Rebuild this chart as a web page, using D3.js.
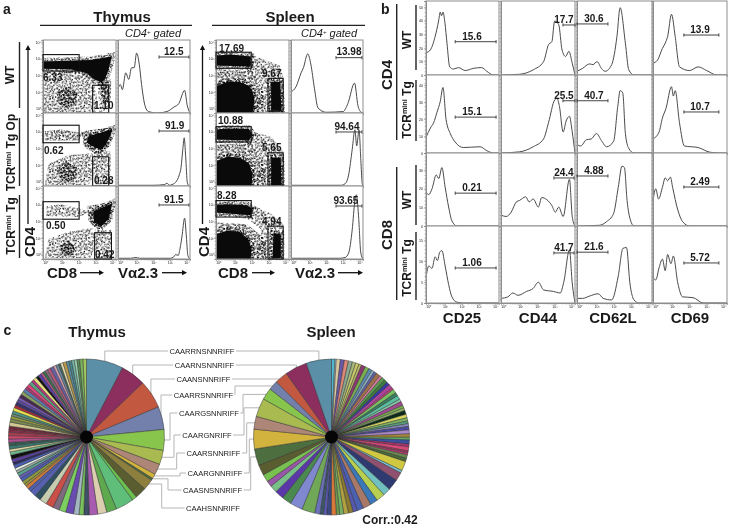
<!DOCTYPE html>
<html><head><meta charset="utf-8">
<script src="https://cdn.jsdelivr.net/npm/d3@7"></script>
<style>
html,body{margin:0;padding:0;background:#fff}
svg{display:block;filter:blur(.4px)}
text{font-family:"Liberation Sans",Arial,sans-serif;fill:#1a1a1a}
</style></head><body>
<div id="chart"></div>
<script>
// ---------- panel a: flow-cytometry gate labels ----------
const thymusDotLabels=[["6.33","1.10"],["0.62","0.28"],["0.50","0.42"]];
const spleenDotLabels=[["17.69","9.67"],["10.88","5.65"],["8.28","4.94"]];
const thymusHistLabels=["12.5","91.9","91.5"];
const spleenHistLabels=["13.98","94.64","93.65"];
// gates in log decades [x0,x1,y0,y1]
const thymusGates=[[[0,1.98,2.3,3.2],[2.72,3.6,0,1.52]],[[0,1.98,2.37,3.33],[2.72,3.6,0,1.6]],[[0,1.98,2.18,3.14],[2.83,3.75,0,1.44]]];
const spleenGates=[[[0,1.93,2.45,3.33],[2.85,3.68,0.1,1.9]],[[0,1.93,2.41,3.25],[2.85,3.68,0,1.82]],[[0,1.93,2.3,3.2],[2.85,3.68,0,1.8]]];
// ---------- event density regions, read as outlines in log decades: [layers, outline] (layers 9 = saturated) ----------
const thymusWTClouds=[
 [3,[[0,2.3],[1.5,2.3],[2.4,2.15],[2.8,1.6],[2.95,.9],[2.9,0],[0,0]]],
 [3,[[3,1.6],[3.75,1.9],[3.7,.3],[3.1,0]]],
 [6,[[.8,1.2],[1.4,1.45],[1.9,1.05],[1.8,.5],[1.2,.25],[.8,.6]]],
 [7,[[3.1,1.7],[3.6,1.7],[3.6,.6],[3.3,.6]]],
 [9,[[0,2.82],[1.3,2.86],[2.6,2.9],[3.76,3.1],[3.6,2.4],[3.4,1.85],[3.2,1.67],[2.8,1.85],[2.4,2.18],[1.5,2.4],[0,2.42]]]];
const thymusOpClouds=[
 [4,[[.1,2.5],[1.95,2.5],[2.2,2.9],[1,3.1],[.1,3]]],
 [3,[[.1,.05],[2.5,.05],[3,1],[2.7,1.8],[1.4,1.7],[.3,1.2]]],
 [3,[[2.8,1.9],[3.7,1.9],[3.7,.1],[2.85,.1]]],
 [6,[[.7,.9],[1.3,1.35],[1.95,.9],[1.7,.3],[1.1,.2]]],
 [4,[[2.1,3],[3.8,3.2],[3.7,2.2],[3,1.7],[2.3,2.1]]],
 [9,[[2.5,2.74],[3.8,3.1],[3.6,2.55],[3.24,2],[2.87,2.1],[2.4,2.37]]]];
const thymusTgClouds=[
 [3,[[.2,2.35],[2,2.3],[2.6,2.6],[1,3],[.2,2.9]]],
 [3,[[.1,.05],[2.6,.05],[3,1],[2.7,1.7],[1.4,1.5],[.3,1.1]]],
 [3,[[2.85,1.6],[3.75,1.6],[3.75,.05],[2.9,.05]]],
 [7,[[.9,.7],[1.4,1],[1.8,.65],[1.6,.2],[1.1,.2]]],
 [4,[[2.4,2.9],[3.8,3.15],[3.7,2],[3,1.6],[2.5,2.1]]],
 [9,[[2.75,2.6],[3.8,3.05],[3.6,2.2],[3.2,1.8],[2.8,2]]]];
const spleenWTClouds=[
 [3,[[1.9,3.2],[3.5,2.6],[3.7,1.9],[3.7,.05],[2.2,.05],[2.5,1.6],[1.6,2.4]]],
 [4,[[0,2.4],[2,2.3],[2.6,1.2],[2.6,0],[0,0]]],
 [9,[[0,2.6],[1.9,2.55],[1.9,3.1],[.8,3.2],[0,3.15]]],
 [9,[[0,0],[0,1.45],[.6,1.7],[1.3,1.7],[1.85,1.45],[2.1,.9],[2.05,0]]],
 [9,[[3.02,1.7],[3.52,1.7],[3.58,.12],[3.02,.12]]]];
const spleenOpClouds=[
 [3,[[1.9,3],[3,2.7],[3.7,1.9],[3.7,0],[2.2,0],[2.5,1.6],[1.6,2.4]]],
 [4,[[0,2.3],[1.9,2.3],[2.7,1.2],[2.7,0],[0,0]]],
 [9,[[0,2.55],[1.8,2.5],[2,2.8],[1.8,3.12],[.6,3.15],[0,3.1]]],
 [9,[[0,0],[0,1.35],[.6,1.6],[1.3,1.55],[1.8,1.25],[2,.7],[1.95,0]]],
 [9,[[3.02,1.55],[3.55,1.55],[3.58,.05],[3.02,.05]]]];
const spleenTgClouds=[
 [3,[[1.9,3],[3,2.5],[3.7,1.9],[3.7,0],[2.2,0],[2.5,1.6],[1.6,2.3]]],
 [4,[[0,2],[1.7,1.9],[2.7,1.1],[2.8,0],[0,0]]],
 [9,[[0,2.55],[1.9,2.4],[2,2.75],[1.7,2.95],[.5,3],[0,2.95]]],
 [9,[[0,0],[0,1.35],[.6,1.55],[1.3,1.5],[1.75,1.1],[1.95,.6],[1.9,0]]],
 [9,[[3.15,1.4],[3.55,1.35],[3.55,.05],[3.1,.05]]]];
// ---------- panel a: histograms [log decade, % of panel height] ----------
const thymusHists=[
 [[0,33],[.13,39],[.24,32],[.43,55],[.6,46],[.75,62],[.9,62],[1.03,82],[1.18,67],[1.31,39],[1.5,10],[1.69,2],[2.16,0],[2.72,2],[3.1,8],[3.38,13],[3.7,31],[3.85,10],[4,0]],
 [[0,1],[1,1],[2,1],[2.6,2],[2.72,4],[2.85,1],[3,2],[3.2,5],[3.4,15],[3.5,25],[3.6,50],[3.68,66],[3.76,40],[3.85,5],[3.95,0],[4,0]],
 [[0,1],[.7,1],[1,2],[1.2,1],[2,1],[2.9,1],[3.1,3],[3.2,6],[3.35,5],[3.45,15],[3.55,30],[3.7,56],[3.8,30],[3.88,5],[4,0]]];
const spleenHists=[
 [[0,29],[.28,36],[.56,55],[.69,62],[.93,81],[1.1,67],[1.3,34],[1.5,7],[1.95,1],[2.9,2],[3.16,13],[3.53,41],[3.72,10],[3.9,1],[4,0]],
 [[0,1],[1.5,1],[2.8,1],[3,3],[3.2,15],[3.4,50],[3.55,77],[3.65,55],[3.78,77],[3.88,35],[3.95,5],[4,0]],
 [[0,1],[1,1],[2.7,1],[3,2],[3.2,8],[3.4,40],[3.55,80],[3.63,88],[3.75,60],[3.88,8],[4,0]]];
// ---------- panel b: histograms by row then marker ----------
const cd25Hists=[
 [[0,30],[.24,34],[.5,52],[.69,73],[.78,85],[.85,80],[.93,85],[1.04,70],[1.15,43],[1.3,11],[1.5,8],[1.78,10],[2.15,6],[2.6,9],[3.05,10],[3.33,5],[3.7,0],[4,0]],
 [[0,20],[.24,32],[.42,39],[.6,52],[.78,66],[.93,84],[1.1,43],[1.33,25],[1.6,14],[2.05,7],[2.96,8],[3.33,3],[3.7,0],[4,0]],
 [[0,46],[.15,43],[.33,51],[.56,70],[.7,65],[.87,80],[1.05,53],[1.24,26],[1.42,7],[1.7,0],[4,0]],
 [[0,33],[.15,48],[.33,45],[.5,60],[.63,55],[.75,66],[.87,68],[1.05,48],[1.24,24],[1.42,8],[1.7,1],[2.05,0],[4,0]]];
const cd44Hists=[
 [[0,0],[1,1],[1.74,7],[2.3,18],[2.57,41],[2.75,45],[2.9,73],[3.12,68],[3.3,34],[3.49,25],[3.67,32],[3.85,16],[4,0]],
 [[0,0],[1,1.5],[1.74,8],[2.3,18],[2.57,39],[2.9,68],[3.03,70],[3.15,61],[3.36,27],[3.52,41],[3.7,47],[3.85,27],[4,0]],
 [[0,15],[.28,13],[.55,19],[.83,33],[1,35],[1.34,40],[1.52,33],[1.74,37],[2.02,26],[2.2,39],[2.48,36],[2.75,28],[2.94,19],[3.12,26],[3.36,13],[3.7,64],[3.85,13],[4,0]],
 [[0,6],[.37,8],[.64,13],[.92,10],[1.38,15],[1.74,19],[2.02,27],[2.3,17],[2.84,15],[3.2,13],[3.4,28],[3.7,69],[3.85,26],[4,0]]];
const cd62Hists=[
 [[0,5],[.3,9],[.67,15],[.85,14],[1.07,18],[1.3,9],[1.5,5],[1.85,14],[2.13,52],[2.3,91],[2.58,43],[2.76,7],[3.04,0],[4,0]],
 [[0,11],[.2,9],[.5,17],[.76,18],[1.04,25],[1.3,16],[1.58,8],[1.95,15],[2.18,61],[2.3,80],[2.44,77],[2.58,25],[2.76,6],[3.04,0],[4,0]],
 [[0,0],[1.2,1],[1.58,6],[1.95,17],[2.2,53],[2.4,82],[2.53,80],[2.67,35],[2.85,8],[3.04,0],[4,0]],
 [[0,6],[.3,6],[.67,9],[1.13,12],[1.4,6],[1.85,4],[2.2,35],[2.45,71],[2.64,72],[2.82,26],[3.04,4],[3.3,0],[4,0]]];
const cd69Hists=[
 [[0,16],[.24,20],[.51,36],[.66,43],[.79,52],[1,82],[1.2,52],[1.43,11],[1.98,6],[2.44,11],[2.9,6],[3.45,0],[4,0]],
 [[0,18],[.33,27],[.51,45],[.7,57],[1,85],[1.1,73],[1.2,80],[1.43,39],[1.7,9],[2.44,7],[3.08,1],[3.63,0],[4,0]],
 [[0,35],[.15,51],[.3,37],[.51,53],[.66,66],[.79,62],[.94,67],[1.06,53],[1.34,22],[1.6,6],[1.98,0],[4,0]],
 [[0,33],[.15,30],[.33,46],[.51,57],[.66,42],[.79,63],[.97,51],[1.1,61],[1.34,26],[1.6,8],[2.16,7],[2.72,0],[4,0]]];
const markerNames=["CD25","CD44","CD62L","CD69"];
const cd25Values=["15.6","15.1","0.21","1.06"];
const cd44Values=["17.7","25.5","24.4","41.7"];
const cd62Values=["30.6","40.7","4.88","21.6"];
const cd69Values=["13.9","10.7","2.49","5.72"];
const countTicks=[[0,10,20,30,40,50],[0,10,20,30,40],[0,10,20,30],[0,5,10,15]];
const countMax=[54.5,45.8,39,18.3];
// ---------- panel c: repertoire shares ----------
const cloneLabels=["CAARRNSNNRIFF","CAARNSNNRIFF","CAANSNNRIFF","CAARRSNNRIFF","CAARGSNNRIFF","CAARGNRIFF","CAARSNNRIFF","CAARGNNRIFF","CAASNSNNRIFF","CAAHSNNRIFF"];
const thymusShares=[27.4,18.6,21,17,15.5,10.5,8,3.5,1.5,8,8.6,3.5,13.5,7.5,6.7,6.3,4,3.5,4.1,5.8,5.1,4.8,5.7,5.4,4.6,4.6,
 2.5,2.5,2,2.5,2.5,2,2.5,2,2,2.5,2,2.5,3,2.5,2,2.5,2.5,2.5,2.5,2.5,2,2.5,3,2.5,2,2,2,2.5,2,2.5,2,2,2.5,2.5,2.5,2,2.5,2.5,2,2.5,2,2.5,1.5,2,2,2.5,2.5,2,2,1.5,2,2.5,2,2,2,2,2,2.5,2.5];
const thymusColors=["#5b8fa8","#8c2f5f","#c1583f","#7480ac","#87c54d","#a9bb50","#ad8678","#d2b33e","#4d6f3f","#8d7f3d","#5a5d30","#6cc04c","#5fbf7a","#5ea94e","#dccfb0","#a85cb0","#3f4f66","#78c05c","#a3b5c0","#6a4cb0","#7bcf60","#7d6c80","#c94f48","#c5ccb0","#2f5060","#5560b0",
 "#4f60b0","#d07a3c","#a08c3c","#8c9a40","#4a5fb0","#6a5fc0","#5aa090","#9ab0a0","#e8efe8","#4a60b0","#2c2a60","#5a3fa0","#111111","#6fb58a","#e0d8a0","#3a7a70","#395a50","#b0508f","#c8486a","#a83c50","#8a3048","#702a3c","#d0c890","#7a8a50","#9aa040","#6a8a70","#4a9a8a","#e8e050","#b02a3a","#34306a","#5a4aa0","#7a5ab8","#4a2a50","#8aa060","#5a80b0","#b03a78","#d8487a","#58a080","#b8347f","#e8e080","#151515","#5a3fa0","#c05a90","#3a7050","#8a6a80","#b05a78","#6860a8","#d0a0b0","#6a8aa0","#4a6a60","#e0d8a8","#b89a50","#5a90a0","#4a8a90","#78b8a8","#9ad0b0","#5a8a58","#7ab060","#a0c860","#402a80"];
const spleenShares=[2.5,1,3,3,3,3,2.5,2.5,2,3,3,2.5,2,2,3,2,2.5,2.5,2.5,3,1.5,3,2.5,3,2,3,2,2,3,2.5,2.5,2,2,2.5,3,2.5,2,3,2,3,1.5,1.5,2.5,2.5,7,2,6.2,8.3,5.7,6.3,5.6,6,4.8,3.1,3.5,3.5,3,2.5,3.7,3.3,2.5,2.5,4,9.6,9.4,7,6.6,5.4,4.4,5.6,
 7.8,12.2,14.5,9.5,13.7,8.7,7,9.5,16.4,18.7];
const spleenColors=["#4fb6cf","#a8c8d8","#d8c8a0","#6a58a8","#e08878","#8aa890","#a8b878","#c8c868","#b8b868","#8a3a70","#7ab050","#5f8ab0","#8ab0c0","#6060a8","#a0704a","#d878a0","#5a9a50","#3a7a3a","#3a3aa0","#b0409a","#c04080","#7ac060","#3a8060","#5ac0a0","#88c8a8","#a04a90","#7ab050","#90b068","#0e2a1a","#d8d860","#7ab060","#5aa080","#8a8ac0","#4a4aa0","#a888c8","#a88838","#60a860","#3a50a0","#b03070","#d84878","#a03a60","#c83a78","#6a8a50","#4a6a3a","#d0c840","#78c0d0","#905070","#2f3a70","#70c0c0","#b8d050","#3a78b8","#a87868","#4a60b0","#5858b0","#8a7a30","#b0a040","#78b060","#6a9a50","#d87838","#3a4a80","#5a58b0","#3a5a68","#6a70b8","#70a858","#8088d0","#4a8a50","#5a38a8","#78c088","#9858a8","#78c050",
 "#5a5d30","#4d6f3f","#d2b33e","#ad8678","#a9bb50","#87c54d","#7480ac","#c1583f","#8c2f5f","#5b8fa8"];
// stipple tile for the event clouds, read by eye
const stippleTile=[[2,3],[7,1],[13,4],[19,2],[4,8],[10,7],[16,9],[21,6],[1,13],[7,12],[12,14],[18,13],[3,18],[9,17],[15,19],[20,17],[6,21],[12,20],[18,21],[1,21],[9,4],[15,12],[5,15],[20,10]];

// ---------- layout ----------
const W=729,H=529;
const svg=d3.select("#chart").append("svg").attr("width",W).attr("height",H).attr("viewBox",[0,0,W,H]);
svg.append("rect").attr("width",W).attr("height",H).attr("fill","#fff");
const defs=svg.append("defs");
const angles=[17,53,97,131,163,29,71,113,149];
const tileScale=.74;
angles.forEach((a,i)=>{
  const p=defs.append("pattern").attr("id","st"+i).attr("width",22*tileScale).attr("height",22*tileScale)
    .attr("patternUnits","userSpaceOnUse").attr("patternTransform",`rotate(${a}) translate(${i*5},${i*3})`);
  p.selectAll("rect").data(stippleTile).join("rect").attr("x",d=>d[0]*tileScale).attr("y",d=>d[1]*tileScale).attr("width",1.05).attr("height",1.05).attr("fill","#000");
});
const decades=d3.range(0,5);
const minor=d3.range(0,4).flatMap(d=>d3.range(1,10).map(k=>d+Math.log10(k))).concat([4]);
const supers=["⁰","¹","²","³","⁴"];
const FRAME="#8d8d8d";

function text(x,y,s,o={}){
  const t=svg.append("text").attr("x",x).attr("y",y).text(s)
    .attr("font-size",o.size||10).attr("text-anchor",o.anchor||"middle");
  if(o.bold!==false)t.attr("font-weight","bold");
  if(o.rot)t.attr("transform",`rotate(-90 ${x} ${y})`);
  return t;
}
function tgLabel(x,y,tail,size){
  const t=svg.append("text").attr("transform",`translate(${x},${y}) rotate(-90)`).attr("text-anchor","middle").attr("font-size",size).attr("font-weight","bold");
  t.append("tspan").text("TCR");
  t.append("tspan").text("mini").attr("font-size",size*.6).attr("dy",-size*.32);
  t.append("tspan").text(" "+tail).attr("dy",size*.32);
}
function vline(x,y0,y1,w){svg.append("line").attr("x1",x).attr("x2",x).attr("y1",y0).attr("y2",y1).attr("stroke","#222").attr("stroke-width",w||1.4);}
function arrow(x0,y0,x1,y1){
  const a=Math.atan2(y1-y0,x1-x0),s=5;
  svg.append("line").attr("x1",x0).attr("y1",y0).attr("x2",x1-Math.cos(a)*s).attr("y2",y1-Math.sin(a)*s).attr("stroke","#111").attr("stroke-width",1.3);
  const p=[[x1,y1],[x1-Math.cos(a)*s-Math.sin(a)*2.6,y1-Math.sin(a)*s+Math.cos(a)*2.6],[x1-Math.cos(a)*s+Math.sin(a)*2.6,y1-Math.sin(a)*s-Math.cos(a)*2.6]];
  svg.append("polygon").attr("points",p.join(" ")).attr("fill","#111");
}
function axisStyle(g,labels){
  g.selectAll(".domain").attr("stroke",FRAME).attr("stroke-width",1);
  g.selectAll("line").attr("stroke",FRAME).attr("stroke-width",.6);
  g.selectAll("text").attr("font-size",3.6).attr("fill","#444").style("display",labels?null:"none");
}
function panel(x,y,w,h,o={}){
  const g=svg.append("g").attr("transform",`translate(${x},${y})`);
  const xs=d3.scaleLinear([0,4],[0,w]),ys=d3.scaleLinear([0,100],[h,0]);
  g.append("rect").attr("width",w).attr("height",h).attr("fill","#fff");
  const content=g.append("g");
  g.append("rect").attr("width",w).attr("height",h).attr("fill","none").attr("stroke",FRAME).attr("stroke-width",1);
  axisStyle(g.append("g").attr("transform",`translate(0,${h})`).call(d3.axisBottom(xs).tickValues(minor).tickSize(1.5).tickFormat("")),false);
  axisStyle(g.append("g").call(d3.axisLeft(ys).tickValues(d3.range(0,101,5)).tickSize(1.5).tickFormat("")),false);
  if(o.xLabels){
    const inset=d3.scaleLinear([0,4],[w*.03,w*.95]);
    const a=g.append("g").attr("transform",`translate(0,${h})`).call(d3.axisBottom(inset).tickValues(decades).tickSize(2).tickPadding(0).tickFormat(d=>"10"+supers[d]));
    a.select(".domain").remove();
    axisStyle(a,true);
  }
  return {g:content,root:g,xs,ys,w,h};
}
function hist(p,pts){
  const line=d3.line().x(d=>p.xs(d[0])).y(d=>p.ys(d[1])).curve(d3.curveMonotoneX);
  p.g.append("path").datum(pts).attr("d",line).attr("fill","none").attr("stroke","#4a4a4a").attr("stroke-width",1);
}
function gateBar(p,x0,x1,pct,label,lx){
  const y=p.ys(pct),g=p.root.append("g");
  g.append("line").attr("x1",p.xs(x0)).attr("x2",p.xs(x1)).attr("y1",y).attr("y2",y);
  [x0,x1].forEach(v=>g.append("line").attr("x1",p.xs(v)).attr("x2",p.xs(v)).attr("y1",y-1.6).attr("y2",y+1.6));
  g.selectAll("line").attr("stroke","#444").attr("stroke-width",1);
  g.append("text").attr("x",p.xs(lx)).attr("y",y-2.2).attr("text-anchor","middle").attr("font-size",10).attr("font-weight","bold").text(label);
}
function dotPanel(x,y,clouds,gates,labelsPos,labels,xLabels){
  const p=panel(x,y,73,73,{xLabels});
  const ysD=d3.scaleLinear([0,4],[73,0]);
  const path=d3.line().x(d=>p.xs(d[0])).y(d=>ysD(d[1]));
  const clip="cl"+x+"_"+y;
  defs.append("clipPath").attr("id",clip).append("rect").attr("width",73).attr("height",73);
  p.g.attr("clip-path",`url(#${clip})`);
  clouds.forEach(([n,pts])=>{
    if(n===9){
      // fuzzy rim of a saturated region
      d3.range(5).forEach(i=>p.g.append("path").attr("d",path(pts)+"Z").attr("fill","none").attr("stroke",`url(#st${i})`).attr("stroke-width",i<3?7:4));
      p.g.append("path").attr("d",path(pts)+"Z").attr("fill","#0a0a0a");
    } else d3.range(n).forEach(i=>p.g.append("path").attr("d",path(pts)+"Z").attr("fill",`url(#st${i})`));
  });
  gates.forEach(([a,b,c,d])=>p.root.append("rect").attr("x",p.xs(a)).attr("y",ysD(d)).attr("width",p.xs(b)-p.xs(a)).attr("height",ysD(c)-ysD(d)).attr("fill","none").attr("stroke","#111").attr("stroke-width",1.1));
  labels.forEach((s,i)=>p.root.append("text").attr("x",labelsPos[i][0]).attr("y",labelsPos[i][1]).attr("font-size",10).attr("font-weight","bold").text(s));
  const inset=d3.scaleLinear([0,4],[73*.94,73*.03]);
  const l=p.root.append("g").call(d3.axisLeft(inset).tickValues(decades).tickSize(2).tickPadding(0).tickFormat(d=>"10"+supers[d]));
  l.select(".domain").remove();
  axisStyle(l,true);
  return p;
}
// ---------- panel a ----------
text(3,13.5,"a",{size:14,anchor:"start"});
text(122,22,"Thymus",{size:15});
text(290,22,"Spleen",{size:15});
[[40,192],[212,365]].forEach(([a,b])=>svg.append("line").attr("x1",a).attr("x2",b).attr("y1",25.3).attr("y2",25.3).attr("stroke","#222").attr("stroke-width",1.2));
[153,329].forEach(x=>{
  const t=svg.append("text").attr("x",x).attr("y",37).attr("text-anchor","middle").attr("font-size",11).attr("font-style","italic");
  t.append("tspan").text("CD4");t.append("tspan").text("+").attr("font-size",6).attr("dy",-3);t.append("tspan").text(" gated").attr("dy",3);
});
const aRowY=[40,113,186];
const thymusClouds=[thymusWTClouds,thymusOpClouds,thymusTgClouds];
const spleenClouds=[spleenWTClouds,spleenOpClouds,spleenTgClouds];
const thymusLabelPos=[[[0,41],[51,69]],[[1,41],[51,71]],[[3,42.5],[52,71.5]]];
const spleenLabelPos=[[[3,11.5],[46,37]],[[2,10.5],[46,37.5]],[[1,12.5],[46,38.5]]];
const thymusPct=[76.7,75.3,74],spleenPct=[75.8,74,72.6];
const thymusLblX=[3.1,3.15,3.1],spleenLblX=[3.22,3.11,3.05];
aRowY.forEach((y,i)=>{
  const last=i===2;
  dotPanel(43,y,thymusClouds[i],thymusGates[i],thymusLabelPos[i],thymusDotLabels[i],last);
  const h1=panel(118,y,72,73,{xLabels:last});
  hist(h1,thymusHists[i]);
  gateBar(h1,2.28,3.94,thymusPct[i],thymusHistLabels[i],thymusLblX[i]);
  dotPanel(216,y,spleenClouds[i],spleenGates[i],spleenLabelPos[i],spleenDotLabels[i],last);
  const h2=panel(291,y,72,73,{xLabels:last});
  hist(h2,spleenHists[i]);
  gateBar(h2,2.5,3.94,spleenPct[i],spleenHistLabels[i],spleenLblX[i]);
});
text(14,75,"WT",{size:12,rot:true});
tgLabel(14.5,152.5,"Tg Op",12);
tgLabel(14.5,226,"Tg",12);
vline(19.5,42,108);vline(19.5,118,186);vline(19.5,195,258);
arrow(28,224,28,45);arrow(202.5,224,202.5,45);
text(34.5,242,"CD4",{size:15,rot:true});
text(208.5,242,"CD4",{size:15,rot:true});
[[47,"CD8",80,104],[218,"CD8",252,275]].forEach(([x,s,a,b])=>{text(x,278,s,{size:15,anchor:"start"});arrow(a,272.7,b,272.7);});
[[118,162,187],[295,338,363]].forEach(([x,a,b])=>{text(x,278,"Vα2.3",{size:15,anchor:"start"});arrow(a,272.7,b,272.7);});

// ---------- panel b ----------
text(381,13.5,"b",{size:14,anchor:"start"});
const bColX=[426,501,577,653],bColW=[73,74,75,74];
const bRows=[[1,74],[75,78],[153,73],[226,77]];
const bHists=[cd25Hists,cd44Hists,cd62Hists,cd69Hists];
const bValues=[cd25Values,cd44Values,cd62Values,cd69Values];
const bGateX=[[[1.6,3.84],[1.6,3.84],[1.6,3.84],[1.6,3.84]],[[3.35,4],[3.35,4],[2.86,3.95],[2.86,3.95]],[[0,1.65],[0,1.65],[0,1.65],[0,1.65]],[[1.67,3.56],[1.67,3.56],[1.67,3.56],[1.67,3.56]]];
const bPct=[[45,46,45,45.5],[67.6,67,65.8,65],[69,67,68.5,66],[54,52.6,53.4,52]];
const bLblX=[2.52,3.4,.9,2.54];
bRows.forEach(([y,h],r)=>{
  bHists.forEach((hs,c)=>{
    const p=panel(bColX[c],y,bColW[c],h,{xLabels:r===3});
    hist(p,hs[r]);
    gateBar(p,bGateX[c][r][0],bGateX[c][r][1],bPct[c][r],bValues[c][r],bLblX[c]);
    if(c===0){
      const yc=d3.scaleLinear([0,countMax[r]],[h,0]);
      axisStyle(p.root.append("g").call(d3.axisLeft(yc).tickValues(countTicks[r]).tickSize(2).tickPadding(1)),true);
    }
  });
});
markerNames.forEach((s,i)=>text([462,538,613,690][i],323,s,{size:15}));
text(392,75,"CD4",{size:15,rot:true});
text(392,235,"CD8",{size:15,rot:true});
vline(396.7,4,140);vline(396.7,167,300);
[40,200].forEach(y=>text(411,y,"WT",{size:12,rot:true}));
tgLabel(411,110,"Tg",12);tgLabel(411,268,"Tg",12);
vline(416,5,70);vline(416,80,141);vline(416,165,225);vline(416,232,300);

// ---------- panel c ----------
text(3.5,335,"c",{size:14,anchor:"start"});
text(97,337,"Thymus",{size:15});
text(331,337,"Spleen",{size:15});
text(390,524,"Corr.:0.42",{size:12});
const R=78,pieY=437,thymusX=86.5,spleenX=331.5;
const pieGen=d3.pie().sort(null).value(d=>d);
const arcGen=d3.arc().innerRadius(0).outerRadius(R);
const thymusArcs=pieGen(thymusShares),spleenArcs=pieGen(spleenShares);
const leaders=svg.append("g").attr("fill","none").attr("stroke","#b5b5b5").attr("stroke-width",1);
function drawPie(cx,arcs,cols){
  const g=svg.append("g").attr("transform",`translate(${cx},${pieY})`);
  g.selectAll("path").data(arcs).join("path").attr("d",arcGen).attr("fill",(d,i)=>cols[i]).attr("stroke","#2a2a2a").attr("stroke-width",.45);
  g.append("circle").attr("r",6.5).attr("fill","#050505");
}
const edgePoint=(cx,a)=>{const m=(a.startAngle+a.endAngle)/2;return [cx+Math.sin(m)*(R-1),pieY-Math.cos(m)*(R-1)];};
const labelY=[351,365,379,395,413,435,453,473,490,508];
const labelX=[202,204.5,203.5,203.5,209,207,213.5,215,212.5,213];
const leftElbow=[null,null,null,161,170,174,176.7,180,168,161.7];
const rightElbow=[null,null,null,235,243,244,246.7,249.3,250.7,"none"];
const nS=spleenArcs.length;
const labelText=svg.append("g");
cloneLabels.forEach((s,i)=>{
  const t=labelText.append("text").attr("x",labelX[i]).attr("y",labelY[i]+2.6).attr("text-anchor","middle").attr("font-size",7.6).attr("fill","#444").text(s);
  const half=t.node().getComputedTextLength()/2;
  const lp=edgePoint(thymusX,thymusArcs[i]);
  const le=leftElbow[i]===null?lp[0]:leftElbow[i];
  const route=d3.line();
  leaders.append("path").attr("d",route([[labelX[i]-half-1.5,labelY[i]],[le,labelY[i]],[le,lp[1]],lp]));
  if(rightElbow[i]!=="none"){
    const rp=edgePoint(spleenX,spleenArcs[nS-1-i]);
    const re=rightElbow[i]===null?rp[0]:rightElbow[i];
    leaders.append("path").attr("d",route([[labelX[i]+half+1.5,labelY[i]],[re,labelY[i]],[re,rp[1]],rp]));
  }
});
drawPie(thymusX,thymusArcs,thymusColors);
drawPie(spleenX,spleenArcs,spleenColors);
</script>
</body></html>
